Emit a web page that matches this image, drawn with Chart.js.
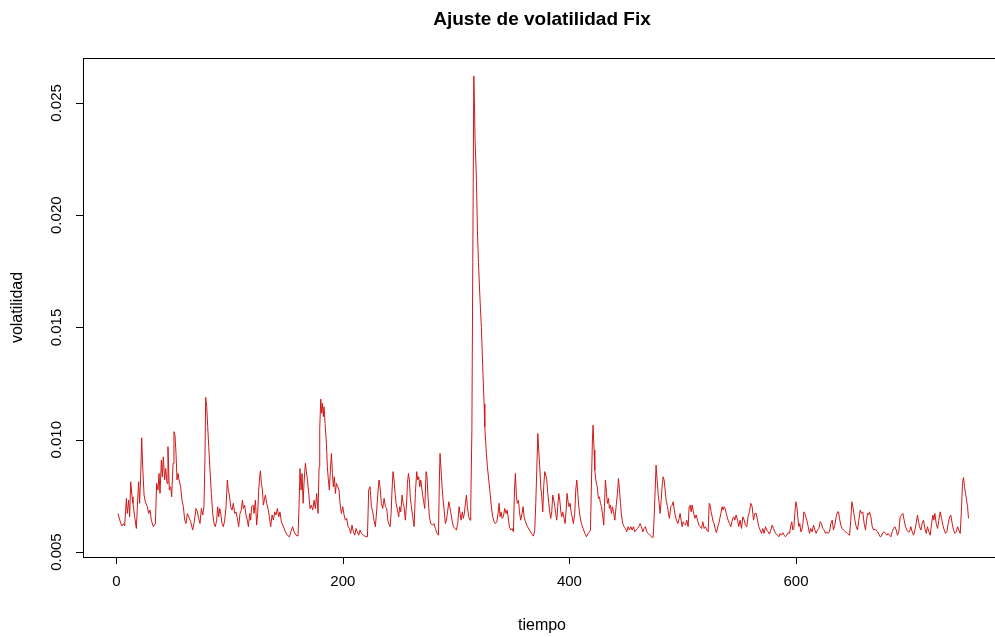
<!DOCTYPE html>
<html>
<head>
<meta charset="utf-8">
<script src="https://cdn.jsdelivr.net/npm/chart.js@4.4.1/dist/chart.umd.min.js"></script>
<style>
  html, body { margin: 0; padding: 0; background: #fff; overflow: hidden; }
  #wrap { width: 1010px; height: 637px; }
</style>
</head>
<body>
<div id="wrap"><canvas id="grafico" width="1010" height="637"></canvas></div>
<script>
// valores (tiempo, volatilidad)
const tiempo = [
  1.5,3.9,5.0,6.5,7.4,8.9,9.7,10.9,11.8,12.7,13.9,14.7,16.2,17.7,18.6,19.7,20.6,21.5,22.4,23.3,24.5,25.6,27.4,28.6,29.8,30.9,32.7,34.5,35.6,36.8,37.7,38.6,39.8,40.6,41.5,42.7,43.6,44.8,45.6,46.8,48.0,48.9,50.1,50.9,51.8,52.7,53.6,54.5,55.4,56.8,58.0,59.2,60.4,61.5,62.7,
  65.7,67.4,68.6,70.4,71.6,72.7,73.9,75.1,76.3,77.4,78.3,78.9,79.8,80.7,81.6,82.7,83.9,85.1,86.3,87.4,88.6,89.5,90.4,91.3,92.2,93.3,94.5,95.7,96.9,98.0,98.9,99.8,101.0,102.2,103.3,104.5,105.7,106.9,108.0,109.2,110.4,111.3,112.2,113.3,114.5,115.7,116.6,117.8,118.6,119.5,120.7,121.6,122.8,123.9,124.8,125.7,126.6,127.2,128.1,129.0,129.8,130.7,131.6,132.8,133.9,
  135.1,136.3,137.5,138.7,139.8,141.0,142.2,143.4,144.5,145.7,147.5,149.3,151.0,152.8,154.6,155.7,156.9,158.7,160.4,161.3,162.2,163.1,164.0,164.9,165.7,166.9,167.8,168.7,169.9,171.0,172.2,173.4,174.6,175.7,176.9,178.1,179.0,179.6,180.5,181.3,181.9,182.8,183.4,184.3,185.5,186.3,187.2,188.1,189.0,189.9,190.8,191.6,192.5,193.4,194.3,195.5,196.6,197.5,198.7,199.9,201.1,202.2,203.4,204.6,
  205.8,206.9,208.1,209.3,210.5,211.7,212.8,214.0,215.2,216.4,218.1,220.5,221.7,222.8,224.0,225.2,226.4,227.5,228.7,229.9,231.1,232.0,232.8,234.0,235.2,236.4,237.6,238.7,239.9,241.7,242.6,243.4,244.3,245.2,246.1,247.0,248.2,249.3,250.2,251.1,252.3,253.2,254.0,255.2,256.4,257.0,257.9,258.7,259.6,260.5,261.7,262.9,264.0,265.2,266.1,267.0,267.9,268.8,269.9,271.1,272.3,273.5,274.3,275.2,
  276.4,277.6,279.3,280.5,281.7,283.2,284.4,285.2,285.8,286.7,287.6,288.5,289.4,290.5,291.4,292.3,293.5,294.4,295.2,296.4,297.6,298.8,300.2,301.4,302.6,303.5,304.4,305.5,306.4,307.3,308.2,309.1,309.9,311.1,312.3,312.9,313.9,
  314.7,315.6,316.1,316.7,317.9,318.8,319.7,320.6,321.4,322.3,323.5,324.7,325.3,326.7,327.6,328.8,330.0,331.1,332.3,333.5,334.7,335.9,337.0,337.9,338.8,339.7,340.6,341.7,342.9,344.1,345.0,345.9,
  347.0,348.2,349.4,350.6,351.5,352.3,353.2,354.1,355.0,355.9,357.0,358.2,359.1,360.0,361.2,363.0,364.7,366.5,368.2,369.4,370.3,371.2,372.1,372.9,373.8,374.7,375.6,376.5,377.3,378.2,379.1,380.0,380.9,381.8,382.6,383.5,384.4,385.3,386.2,387.1,387.9,388.8,389.7,390.6,391.5,392.4,393.2,394.1,395.3,396.2,397.1,397.9,398.8,399.7,400.6,401.5,402.4,403.5,404.7,405.6,406.5,407.4,408.3,409.4,410.6,412.1,413.6,415.0,416.5,
  417.7,418.6,419.5,420.3,420.9,421.8,422.4,423.3,424.5,425.6,426.5,427.4,428.3,429.5,430.3,430.9,431.8,432.7,433.6,434.5,435.3,436.2,437.1,438.0,438.9,440.1,441.2,442.4,443.3,444.2,445.1,445.9,447.1,448.3,449.5,450.6,451.8,453.0,454.2,455.4,456.5,457.7,458.9,460.1,461.2,462.4,463.6,464.8,465.9,467.1,468.3,469.5,471.0,472.4,473.9,474.8,475.7,476.5,477.4,478.3,479.2,480.1,481.0,481.8,482.7,483.6,484.5,485.4,486.6,487.7,
  488.3,489.5,490.7,491.6,492.4,493.3,494.5,495.7,496.9,497.7,498.6,499.5,500.4,501.3,502.5,503.6,504.8,505.7,506.6,507.5,508.3,509.5,510.7,511.9,513.1,514.2,515.4,516.6,517.8,518.9,520.1,521.3,522.5,523.4,524.2,525.1,526.0,526.9,527.8,528.6,529.8,531.0,531.9,532.8,533.7,534.8,535.7,536.6,537.5,538.4,539.2,540.1,541.3,542.5,543.4,544.2,545.1,546.0,547.2,548.4,549.5,550.7,551.9,553.1,554.3,555.4,556.6,557.8,
  559.0,560.1,561.3,562.5,563.7,564.9,566.0,567.2,568.4,569.6,570.7,571.9,573.1,574.3,575.4,576.6,577.8,579.0,580.2,581.3,582.5,583.7,584.9,586.0,587.2,588.4,589.6,590.7,591.9,593.1,594.3,595.5,596.3,597.2,598.1,599.0,599.9,600.8,601.6,602.5,603.4,604.3,605.2,606.1,606.9,607.8,608.7,609.6,610.8,611.9,613.1,614.3,615.5,616.7,617.8,619.0,620.2,621.4,622.5,623.7,624.9,626.1,627.2,628.4,
  629.6,630.8,632.0,633.1,634.3,635.5,636.7,637.6,638.4,639.6,640.8,642.0,643.7,645.5,647.3,648.4,649.3,650.2,651.1,652.0,653.2,654.3,655.5,656.7,657.9,659.0,660.2,661.4,662.3,663.2,664.0,664.9,666.1,667.3,668.5,669.6,670.8,672.0,673.2,674.3,675.5,676.7,677.9,679.0,680.2,681.4,682.6,683.8,684.9,686.1,687.3,688.5,689.6,690.8,692.0,693.2,694.4,695.5,696.7,697.9,699.1,
  700.2,701.4,702.6,703.8,705.0,706.1,707.3,708.2,709.1,710.3,711.4,712.6,713.8,715.0,716.1,717.3,718.5,719.7,720.9,721.7,722.6,723.8,725.0,726.1,727.3,728.5,729.7,730.9,732.0,733.2,734.4,735.6,736.7,737.9,739.1,740.3,741.5,742.6,743.8,745.0,746.2,747.0,747.9,748.8,749.7,750.6,751.5,752.3
];

const volatilidad = [
  0.00672,0.00627,0.00616,0.00627,0.00616,0.00739,0.00672,0.00731,0.00657,0.00813,0.00746,0.00717,0.00657,0.00605,0.00702,0.00813,0.00717,0.00835,0.01009,0.00880,0.00754,0.00724,0.00702,0.00672,0.00687,0.00642,0.00613,0.00627,0.00806,0.00776,0.00850,0.00761,0.00910,0.00835,0.00924,0.00821,0.00872,0.00806,0.00969,0.00776,0.00791,0.00746,0.00895,0.01036,0.01021,0.00939,0.00821,0.00850,0.00821,0.00791,0.00731,0.00702,0.00642,0.00627,0.00672,
  0.00635,0.00598,0.00627,0.00694,0.00679,0.00650,0.00627,0.00694,0.00665,0.00702,0.00924,0.01189,0.01147,0.01058,0.00969,0.00865,0.00761,0.00672,0.00627,0.00613,0.00642,0.00702,0.00657,0.00694,0.00672,0.00627,0.00613,0.00642,0.00702,0.00821,0.00776,0.00754,0.00702,0.00687,0.00717,0.00672,0.00679,0.00650,0.00613,0.00672,0.00687,0.00731,0.00694,0.00709,0.00665,0.00642,0.00613,0.00672,0.00642,0.00702,0.00709,0.00672,0.00731,0.00620,0.00672,0.00776,0.00835,0.00862,0.00806,0.00776,0.00709,0.00731,0.00754,0.00717,0.00694,
  0.00657,0.00613,0.00665,0.00642,0.00679,0.00665,0.00694,0.00657,0.00679,0.00635,0.00613,0.00590,0.00575,0.00568,0.00598,0.00613,0.00590,0.00575,0.00571,0.00702,0.00872,0.00776,0.00850,0.00717,0.00806,0.00895,0.00858,0.00821,0.00761,0.00694,0.00709,0.00687,0.00731,0.00694,0.00761,0.00672,0.00880,0.01051,0.01181,0.01118,0.01162,0.01103,0.01147,0.01073,0.00984,0.00880,0.00821,0.00776,0.00865,0.00939,0.00850,0.00791,0.00835,0.00761,0.00806,0.00791,0.00776,0.00717,0.00672,0.00702,0.00665,0.00642,0.00650,0.00613,
  0.00605,0.00583,0.00620,0.00590,0.00575,0.00605,0.00590,0.00575,0.00598,0.00583,0.00575,0.00568,0.00568,0.00776,0.00791,0.00702,0.00679,0.00642,0.00613,0.00687,0.00776,0.00821,0.00791,0.00717,0.00694,0.00739,0.00702,0.00694,0.00635,0.00613,0.00672,0.00776,0.00858,0.00821,0.00761,0.00717,0.00687,0.00657,0.00702,0.00679,0.00754,0.00717,0.00702,0.00642,0.00731,0.00806,0.00850,0.00821,0.00739,0.00702,0.00657,0.00613,0.00761,0.00858,0.00821,0.00835,0.00791,0.00821,0.00776,0.00731,0.00694,0.00858,0.00835,0.00746,
  0.00657,0.00627,0.00620,0.00627,0.00605,0.00583,0.00575,0.00821,0.00939,0.00865,0.00791,0.00731,0.00687,0.00627,0.00642,0.00672,0.00724,0.00702,0.00679,0.00642,0.00613,0.00605,0.00598,0.00627,0.00702,0.00672,0.00642,0.00679,0.00650,0.00672,0.00717,0.00754,0.00702,0.00657,0.00642,0.00702,0.01040,
  0.01790,0.02620,0.02520,0.02340,0.02160,0.01930,0.01790,0.01680,0.01590,0.01500,0.01320,0.01160,0.01058,0.00939,0.00880,0.00821,0.00761,0.00702,0.00657,0.00635,0.00627,0.00635,0.00672,0.00717,0.00657,0.00679,0.00650,0.00657,0.00694,0.00672,0.00687,0.00657,
  0.00613,0.00598,0.00605,0.00590,0.00776,0.00850,0.00746,0.00717,0.00731,0.00679,0.00642,0.00672,0.00702,0.00657,0.00635,0.00613,0.00598,0.00583,0.00571,0.00598,0.00717,0.00865,0.01028,0.00954,0.00880,0.00791,0.00746,0.00679,0.00791,0.00858,0.00843,0.00821,0.00761,0.00717,0.00679,0.00650,0.00679,0.00754,0.00731,0.00702,0.00672,0.00642,0.00702,0.00761,0.00731,0.00679,0.00657,0.00679,0.00650,0.00627,0.00687,0.00761,0.00724,0.00702,0.00717,0.00679,0.00657,0.00627,0.00672,0.00776,0.00821,0.00761,0.00702,0.00657,0.00627,0.00605,0.00583,0.00568,0.00583,
  0.00590,0.00598,0.00821,0.00999,0.01065,0.00954,0.00865,0.00821,0.00791,0.00739,0.00746,0.00717,0.00702,0.00657,0.00620,0.00702,0.00821,0.00761,0.00717,0.00739,0.00694,0.00709,0.00672,0.00702,0.00679,0.00642,0.00702,0.00761,0.00828,0.00776,0.00717,0.00665,0.00627,0.00613,0.00605,0.00590,0.00613,0.00598,0.00613,0.00598,0.00613,0.00590,0.00598,0.00605,0.00613,0.00627,0.00613,0.00590,0.00605,0.00613,0.00590,0.00583,0.00575,0.00568,0.00565,0.00657,0.00776,0.00887,0.00821,0.00761,0.00717,0.00672,0.00731,0.00791,0.00835,0.00821,0.00776,0.00731,0.00702,0.00665,
  0.00650,0.00702,0.00709,0.00724,0.00694,0.00665,0.00642,0.00627,0.00650,0.00672,0.00642,0.00613,0.00635,0.00627,0.00620,0.00642,0.00613,0.00702,0.00709,0.00679,0.00709,0.00679,0.00650,0.00665,0.00642,0.00620,0.00613,0.00605,0.00635,0.00605,0.00613,0.00598,0.00590,0.00717,0.00709,0.00679,0.00657,0.00635,0.00627,0.00605,0.00586,0.00613,0.00627,0.00650,0.00672,0.00702,0.00687,0.00702,0.00694,0.00672,0.00657,0.00642,0.00627,0.00613,0.00635,0.00650,0.00657,0.00642,0.00665,0.00642,0.00613,0.00642,0.00605,0.00657,0.00642,0.00620,0.00613,0.00660,
  0.00679,0.00717,0.00702,0.00642,0.00672,0.00672,0.00642,0.00613,0.00598,0.00583,0.00605,0.00583,0.00613,0.00598,0.00590,0.00580,0.00598,0.00620,0.00605,0.00590,0.00580,0.00575,0.00568,0.00583,0.00575,0.00586,0.00575,0.00568,0.00575,0.00586,0.00583,0.00620,0.00635,0.00598,0.00605,0.00672,0.00724,0.00702,0.00657,0.00613,0.00627,0.00590,0.00598,0.00627,0.00679,0.00672,0.00657,0.00642,0.00613,0.00583,0.00605,0.00590,0.00620,0.00598,0.00583,0.00598,0.00605,0.00635,0.00627,0.00605,0.00598,0.00583,0.00590,0.00583,
  0.00590,0.00627,0.00642,0.00598,0.00620,0.00657,0.00679,0.00679,0.00650,0.00620,0.00605,0.00598,0.00590,0.00583,0.00575,0.00642,0.00724,0.00702,0.00672,0.00642,0.00613,0.00598,0.00642,0.00687,0.00672,0.00679,0.00627,0.00598,0.00642,0.00672,0.00665,0.00679,0.00657,0.00613,0.00598,0.00601,0.00598,0.00590,0.00580,0.00568,0.00571,0.00586,0.00590,0.00583,0.00575,0.00583,0.00575,0.00568,0.00590,0.00605,0.00613,0.00598,0.00575,0.00590,0.00657,0.00665,0.00672,0.00642,0.00613,0.00598,0.00590,
  0.00590,0.00613,0.00590,0.00575,0.00598,0.00627,0.00665,0.00635,0.00613,0.00598,0.00627,0.00642,0.00605,0.00583,0.00613,0.00590,0.00575,0.00627,0.00665,0.00642,0.00672,0.00627,0.00605,0.00642,0.00679,0.00650,0.00620,0.00598,0.00583,0.00590,0.00627,0.00657,0.00665,0.00627,0.00598,0.00583,0.00590,0.00613,0.00598,0.00583,0.00702,0.00806,0.00832,0.00791,0.00761,0.00731,0.00702,0.00650
];

const ticksX = [0, 200, 400, 600];
const ticksY = [0.005, 0.010, 0.015, 0.020, 0.025];
const etiquetasY = ['0.005', '0.010', '0.015', '0.020', '0.025'];

const titulo = 'Ajuste de volatilidad Fix';
const tituloX = 'tiempo';
const tituloY = 'volatilidad';

const fuente = '"Liberation Sans", Arial, sans-serif';

// ejes al estilo de R: caja, marcas hacia afuera y etiquetas verticales en y
const ejesR = {
  id: 'ejesR',
  afterDraw(chart) {
    const { ctx, chartArea: a, scales: { x, y } } = chart;
    ctx.save();
    ctx.strokeStyle = '#000';
    ctx.lineWidth = 1;
    ctx.strokeRect(Math.round(a.left) + 0.5, Math.round(a.top) + 0.5,
      Math.round(a.right - a.left), Math.round(a.bottom - a.top));

    ctx.fillStyle = '#000';
    ctx.font = '15px ' + fuente;
    ctx.textAlign = 'center';
    ctx.textBaseline = 'middle';
    ctx.beginPath();
    ticksX.forEach(v => {
      const px = Math.round(x.getPixelForValue(v)) + 0.5;
      ctx.moveTo(px, a.bottom);
      ctx.lineTo(px, a.bottom + 7);
    });
    ticksY.forEach(v => {
      const py = Math.round(y.getPixelForValue(v)) + 0.5;
      ctx.moveTo(a.left, py);
      ctx.lineTo(a.left - 7, py);
    });
    ctx.stroke();

    ticksX.forEach(v => {
      ctx.fillText(String(v), x.getPixelForValue(v), a.bottom + 25);
    });
    ticksY.forEach((v, i) => {
      ctx.save();
      ctx.translate(a.left - 26, y.getPixelForValue(v));
      ctx.rotate(-Math.PI / 2);
      ctx.fillText(etiquetasY[i], 0, 0);
      ctx.restore();
    });

    const cx = (a.left + a.right) / 2;
    ctx.font = '16px ' + fuente;
    ctx.fillText(tituloX, cx, 626);
    ctx.save();
    ctx.translate(18, (a.top + a.bottom) / 2);
    ctx.rotate(-Math.PI / 2);
    ctx.fillText(tituloY, 0, 0);
    ctx.restore();

    ctx.font = 'bold 19px ' + fuente;
    ctx.fillText(titulo, cx, 20);
    ctx.restore();
  }
};

const renderGrafico = () => {
  const ctx = document.getElementById('grafico').getContext('2d');
  new Chart(ctx, {
    type: 'line',
    data: {
      datasets: [{
        data: tiempo.map((t, i) => ({ x: t, y: volatilidad[i] })),
        borderColor: '#d01818',
        borderWidth: 1,
        pointRadius: 0,
        tension: 0,
        fill: false
      }]
    },
    options: {
      responsive: false,
      animation: false,
      layout: { padding: { left: 83, right: 9, top: 58, bottom: 80 } },
      plugins: { legend: { display: false }, tooltip: { enabled: false } },
      scales: {
        x: { type: 'linear', min: -29.4, max: 781, display: false },
        y: { type: 'linear', min: 0.00478, max: 0.0270, display: false }
      }
    },
    plugins: [ejesR]
  });
};

document.addEventListener('DOMContentLoaded', renderGrafico);
</script>
</body>
</html>
